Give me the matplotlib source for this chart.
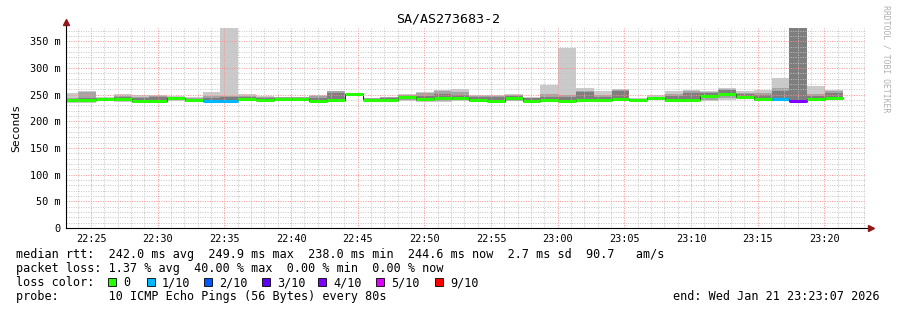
import numpy as np
import matplotlib
matplotlib.use('Agg')
import matplotlib.pyplot as plt
from matplotlib.ticker import MultipleLocator, FuncFormatter

W, H = 897, 310
MONO = 'DejaVu Sans Mono'

# time base: 80 s steps, first (partly hidden) step starts 22:22:42, minutes after 22:00
step_min = 80 / 60
first_step = 22 + 42 / 60
win_start, win_end = 23 + 7 / 60, 83 + 7 / 60

# smoke bands in ms (outer = min..max, then narrower bands), median and loss per step
hi1 = [253, 257, 246, 251, 249, 249, 247, 246, 255, 400, 251, 247, 246, 246, 249,
       257, 252, 244, 246, 251, 255, 258, 261, 249, 250, 251, 245, 269, 338, 263,
       256, 260, 243, 249, 256, 259, 257, 262, 256, 258, 282, 400, 267, 259]
hi2 = [244, 255, 244, 248, 246, 247, 246, 244, 248, 248, 248, 245, 245, 245, 247,
       256, 251.5, 243, 245, 249, 253, 256, 255, 247, 248, 250, 244, 252, 250, 257,
       250, 258, 242, 246, 252, 257, 255, 260, 254, 254, 262, 400, 251, 257]
hi3 = [242, 244, 243, 246, 244, 245, 245, 242, 244, 246, 246, 243, 244, 244, 244,
       254, 251, 242, 244, 247, 248, 252, 250, 245, 246, 248, 243, 246, 246, 255,
       246, 256, 241, 245, 247, 254, 253, 258, 251, 250, 257, 400, 247, 253]
median = [240, 240, 242, 242.5, 239, 239, 244, 240, 239, 238, 241, 240, 242.5, 242.5, 239,
          240, 250.5, 240, 240, 245, 241, 243, 244, 240, 239, 243, 239, 240, 237.5, 240,
          240, 241, 240, 244, 240, 240, 248, 250.5, 246, 241, 241, 239, 242, 244]
lo3 = [239, 239, 241, 240, 238, 238, 242, 238, 238, 237, 240, 239, 241, 241, 238,
       239, 250, 239, 239, 243, 239, 240, 242, 239, 238, 241, 238, 239, 237, 239,
       239, 240, 239.5, 243, 239, 239, 244, 247, 245, 240, 240, 238, 241, 242]
lo2 = [237, 237, 240, 238, 236, 237, 240, 237, 237, 236, 239, 238, 240, 240, 237,
       238, 249.5, 238, 238, 240, 237.5, 238, 240, 238, 237, 239, 237, 238, 236, 238,
       238, 239, 239, 242, 238, 238, 240, 243, 244, 239, 239, 237, 240, 241]
lo1 = [234, 235, 239, 236, 235, 236, 239, 236, 236, 235, 238, 237, 239, 239, 236,
       237, 249, 237, 237, 238, 236, 237, 239, 237, 236, 238, 236, 237, 235, 237,
       237, 238, 238.5, 241, 237, 236, 238, 240, 243, 238, 238, 236, 239, 240]
loss = [0, 0, 0, 0, 0, 0, 0, 0, 1, 1, 0, 0, 0, 0, 0,
        0, 0, 0, 0, 0, 0, 0, 0, 0, 0, 0, 0, 0, 0, 0,
        0, 0, 0, 0, 0, 0, 0, 0, 0, 0, 1, 4, 0, 0]

loss_colors = {0: '#26ff00', 1: '#00b8ff', 2: '#0059ff', 3: '#5e00ff',
               4: '#7e00ff', 5: '#dd00ff', 9: '#ff0000'}
loss_labels = ['0', '1/10', '2/10', '3/10', '4/10', '5/10', '9/10']
loss_keys = [0, 1, 2, 3, 4, 5, 9]

title = 'SA/AS273683-2'
rtt_line = ('median rtt:  242.0 ms avg  249.9 ms max  238.0 ms min  '
            '244.6 ms now  2.7 ms sd  90.7   am/s')
loss_line = 'packet loss: 1.37 % avg  40.00 % max  0.00 % min  0.00 % now'
probe_line = 'probe:       10 ICMP Echo Pings (56 Bytes) every 80s'
end_line = 'end: Wed Jan 21 23:23:07 2026'

n = len(median)
t = first_step + step_min * np.arange(n)

fig = plt.figure(figsize=(W / 100, H / 100), dpi=100)
ax = fig.add_axes([66 / W, 82 / H, 800 / W, 200 / H])

# smoke
for lo, hi, col in [(lo1, hi1, '#cacaca'), (lo2, hi2, '#a4a4a4'), (lo3, hi3, '#7e7e7e')]:
    lo = np.array(lo, float)
    hi = np.array(hi, float)
    ax.bar(t, hi - lo, bottom=lo, width=step_min, align='edge',
           color=col, linewidth=0, zorder=1)

# median: thin black step line underneath, then loss-coloured bands
med = np.array(median, float)
ax.step(np.append(t, t[-1] + step_min), np.append(med, med[-1]), where='post',
        color='black', lw=0.6, zorder=2)
ax.hlines(med, t, t + step_min, colors=[loss_colors[l] for l in loss], lw=2.2, zorder=3)

ax.set_xlim(win_start, win_end)
ax.set_ylim(0, 375)

ax.xaxis.set_major_locator(MultipleLocator(5))
ax.xaxis.set_minor_locator(MultipleLocator(1))
ax.yaxis.set_major_locator(MultipleLocator(50))
ax.yaxis.set_minor_locator(MultipleLocator(10))
ax.xaxis.set_major_formatter(FuncFormatter(
    lambda v, p: '%d:%02d' % (22 + int(round(v)) // 60, int(round(v)) % 60)))
ax.yaxis.set_major_formatter(FuncFormatter(
    lambda v, p: '0' if v == 0 else '%d m' % v))

ax.set_axisbelow(False)
ax.grid(which='minor', color='#c4c4c4', lw=0.7, linestyle=(0, (1, 1.5)), zorder=4)
ax.grid(which='major', color='#ff8c8c', lw=0.7, linestyle=(0, (1, 1.5)), zorder=4)
ax.tick_params(which='both', length=0, labelsize=7.4, labelfontfamily=MONO)
ax.tick_params(axis='x', pad=4)
ax.tick_params(axis='y', pad=4)
ax.set_ylabel('Seconds', family=MONO, fontsize=8.2, labelpad=6)
for s in ax.spines.values():
    s.set_visible(False)

# rrdtool style axes with arrow heads
ax.plot([0, 0], [0, 1.025], transform=ax.transAxes, color='black', lw=0.8, clip_on=False, zorder=5)
ax.plot([0, 1.005], [0, 0], transform=ax.transAxes, color='black', lw=0.8, clip_on=False, zorder=5)
ax.plot([0], [1.03], marker='^', ms=4, color='#901818', transform=ax.transAxes, clip_on=False, zorder=6)
ax.plot([1.006], [0], marker='>', ms=4, color='#901818', transform=ax.transAxes, clip_on=False, zorder=6)


def ptext(x, y, s, **kw):
    fig.text(x / W, 1 - y / H, s, family=MONO, **kw)


ptext(448, 19, title, fontsize=9.6, ha='center', va='center')
ptext(886, 5, 'RRDTOOL / TOBI OETIKER', fontsize=5.9, color='#b0b0b0',
      rotation=270, ha='center', va='top')

ptext(16, 254.5, rtt_line, fontsize=8.5, va='center')
ptext(16, 268.5, loss_line, fontsize=8.5, va='center')
ptext(16, 282.5, 'loss color:', fontsize=8.5, va='center')
ptext(16, 296.5, probe_line, fontsize=8.5, va='center')
ptext(880, 296.5, end_line, fontsize=8.5, va='center', ha='right')

sq_x = [108, 147, 204, 262, 318, 376, 435]
for x, key, lab in zip(sq_x, loss_keys, loss_labels):
    fig.patches.append(plt.Rectangle((x / W, 1 - 286 / H), 8 / W, 8 / H,
                                     transform=fig.transFigure, facecolor=loss_colors[key],
                                     edgecolor='black', lw=0.6))
    ptext(x + 15, 282.5, lab, fontsize=8.5, va='center')

fig.savefig('out.png', dpi=100)
